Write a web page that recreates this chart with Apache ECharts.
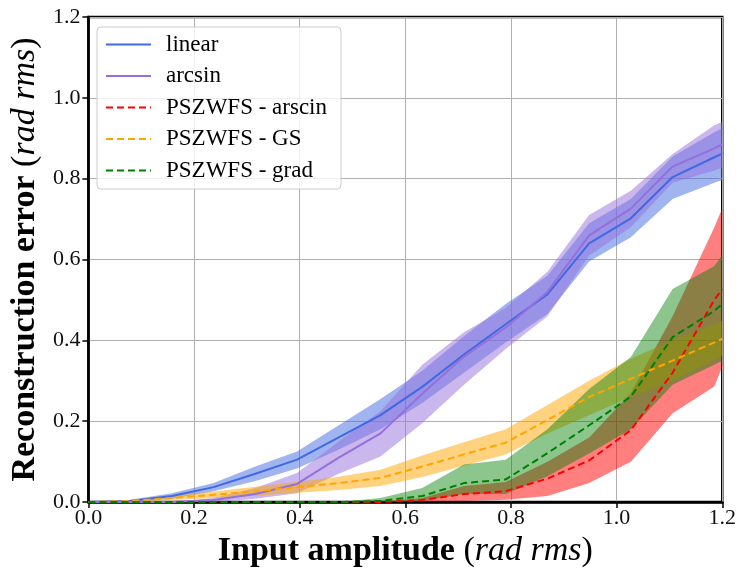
<!DOCTYPE html>
<html><head><meta charset="utf-8">
<script src="https://cdn.jsdelivr.net/npm/echarts@6/dist/echarts.min.js"></script>
<style>html,body{margin:0;padding:0;background:#fff}#c{width:739px;height:573px}</style>
</head><body><div id="c"></div>
<script>
// Input amplitude (rad rms) sample positions (last entry read at the right edge of the axes)
const xs = [0, 0.079, 0.158, 0.237, 0.316, 0.395, 0.474, 0.553, 0.632, 0.711, 0.790, 0.869, 0.948, 1.027, 1.106, 1.185, 1.2];

const linear     = [0, 0.003, 0.015, 0.037, 0.07, 0.105, 0.16, 0.215, 0.285, 0.365, 0.44, 0.514, 0.64, 0.702, 0.804, 0.853, 0.862];
const linearLow  = [0, 0.001, 0.008, 0.027, 0.052, 0.083, 0.13, 0.18, 0.245, 0.32, 0.395, 0.465, 0.595, 0.655, 0.75, 0.79, 0.797];
const linearHigh = [0, 0.006, 0.022, 0.047, 0.088, 0.125, 0.19, 0.255, 0.325, 0.41, 0.49, 0.56, 0.69, 0.75, 0.855, 0.915, 0.925];

const arcsin     = [0, 0, 0, 0.005, 0.02, 0.045, 0.11, 0.17, 0.268, 0.36, 0.432, 0.52, 0.66, 0.726, 0.83, 0.875, 0.885];
const arcsinLow  = [0, 0, 0, 0, 0.008, 0.022, 0.07, 0.113, 0.195, 0.29, 0.379, 0.46, 0.61, 0.68, 0.79, 0.82, 0.828];
const arcsinHigh = [0, 0, 0, 0.01, 0.035, 0.072, 0.15, 0.225, 0.34, 0.42, 0.48, 0.57, 0.71, 0.77, 0.861, 0.932, 0.94];

const pszArscin     = [0, 0, 0, 0, 0, 0, 0, 0, 0.005, 0.02, 0.027, 0.058, 0.103, 0.178, 0.32, 0.50, 0.527];
const pszArscinLow  = [0, 0, 0, 0, 0, 0, 0, 0, 0, 0.003, 0.006, 0.015, 0.047, 0.1, 0.22, 0.286, 0.335];
const pszArscinHigh = [0, 0, 0, 0, 0, 0, 0, 0, 0.01, 0.04, 0.05, 0.1, 0.16, 0.27, 0.46, 0.68, 0.727];

const pszGS     = [0, 0.003, 0.01, 0.018, 0.027, 0.037, 0.047, 0.06, 0.088, 0.118, 0.147, 0.203, 0.26, 0.305, 0.35, 0.395, 0.404];
const pszGSLow  = [0, 0.001, 0.005, 0.01, 0.016, 0.023, 0.03, 0.04, 0.062, 0.09, 0.118, 0.17, 0.215, 0.26, 0.3, 0.352, 0.362];
const pszGSHigh = [0, 0.005, 0.015, 0.026, 0.038, 0.05, 0.063, 0.08, 0.115, 0.148, 0.18, 0.24, 0.3, 0.355, 0.4, 0.44, 0.449];

const pszGrad     = [0, 0, 0, 0, 0, 0, 0, 0.003, 0.015, 0.047, 0.056, 0.121, 0.19, 0.261, 0.408, 0.473, 0.49];
const pszGradLow  = [0, 0, 0, 0, 0, 0, 0, 0, 0.003, 0.02, 0.02, 0.064, 0.12, 0.18, 0.29, 0.34, 0.35];
const pszGradHigh = [0, 0, 0, 0, 0, 0, 0, 0.01, 0.035, 0.093, 0.105, 0.18, 0.28, 0.359, 0.527, 0.584, 0.612];

const seriesNames = ['linear', 'arcsin', 'PSZWFS - arscin', 'PSZWFS - GS', 'PSZWFS - grad'];
const xTicks = [0, 0.2, 0.4, 0.6, 0.8, 1.0, 1.2];
const yTicks = [0, 0.2, 0.4, 0.6, 0.8, 1.0, 1.2];

const FONT = "'Liberation Serif', 'DejaVu Serif', serif";

const defs = [
  {name: seriesNames[0], mean: linear, lo: linearLow, hi: linearHigh, color: '#4169e1', fill: 'rgba(65,105,225,0.5)', dashed: false},
  {name: seriesNames[1], mean: arcsin, lo: arcsinLow, hi: arcsinHigh, color: '#9370db', fill: 'rgba(147,112,219,0.5)', dashed: false},
  {name: seriesNames[2], mean: pszArscin, lo: pszArscinLow, hi: pszArscinHigh, color: '#ff0000', fill: 'rgba(255,0,0,0.5)', dashed: true},
  {name: seriesNames[3], mean: pszGS, lo: pszGSLow, hi: pszGSHigh, color: '#ffa500', fill: 'rgba(255,165,0,0.5)', dashed: true},
  {name: seriesNames[4], mean: pszGrad, lo: pszGradLow, hi: pszGradHigh, color: '#008000', fill: 'rgba(0,128,0,0.45)', dashed: true}
];

function pts(arr) { return xs.map((x, i) => [x, arr[i]]); }

const series = [];
defs.forEach((d) => {
  // band: one polygon per method, built from [x, low, high] through the axis scales
  const bandData = xs.map((x, i) => [x, d.lo[i], d.hi[i]]);
  series.push({
    type: 'custom', name: d.name + ' band', silent: true, z: 2, clip: true,
    data: [0],
    renderItem: function (params, api) {
      const upper = bandData.map(r => api.coord([r[0], r[2]]));
      const lower = bandData.map(r => api.coord([r[0], r[1]])).reverse();
      return {type: 'polygon', shape: {points: upper.concat(lower)}, style: {fill: d.fill}};
    }
  });
});
defs.forEach(d => {
  series.push({type: 'line', name: d.name, data: pts(d.mean), symbol: 'none', z: 5,
    lineStyle: {color: d.color, width: 2, type: d.dashed ? [7, 4] : 'solid'},
    itemStyle: {color: d.color}, emphasis: {disabled: true}});
});

const chart = echarts.init(document.getElementById('c'), null, {renderer: 'canvas'});
chart.setOption({
  animation: false,
  backgroundColor: '#fff',
  grid: {left: 87, right: 14, top: 17, bottom: 67, show: true, borderColor: '#000', borderWidth: 2.5, backgroundColor: 'transparent'},
  legend: {
    data: seriesNames, orient: 'vertical', left: 97, top: 27,
    padding: [6, 14, 7, 8], itemWidth: 45, itemHeight: 12, itemGap: 8.5,
    backgroundColor: 'rgba(255,255,255,0.8)', borderColor: '#cccccc', borderWidth: 1, borderRadius: 4,
    selectedMode: false,
    itemStyle: {opacity: 0},
    textStyle: {fontFamily: FONT, fontSize: 23, color: '#000', lineHeight: 21, padding: [0, 0, 0, 10]}
  },
  xAxis: {
    type: 'value', min: xTicks[0], max: xTicks[xTicks.length - 1], interval: 0.2,
    axisLine: {show: true, onZero: false, lineStyle: {color: '#000', width: 2.5}},
    axisTick: {show: true, length: 6, lineStyle: {color: '#000', width: 1.5}},
    axisLabel: {fontFamily: FONT, fontSize: 22, color: '#111', margin: 5, formatter: v => v.toFixed(1)},
    splitLine: {show: true, lineStyle: {color: '#b0b0b0', width: 1}},
    name: '{b|Input amplitude }{n|(}{i|rad rms}{n|)}', nameLocation: 'middle', nameGap: 29,
    nameTextStyle: {fontFamily: FONT, fontSize: 34, color: '#000', rich: {
      b: {fontFamily: FONT, fontSize: 34, fontWeight: 'bold', color: '#000'},
      n: {fontFamily: FONT, fontSize: 34, color: '#000'},
      i: {fontFamily: FONT, fontSize: 34, fontStyle: 'italic', color: '#000'}}}
  },
  yAxis: {
    type: 'value', min: yTicks[0], max: yTicks[yTicks.length - 1], interval: 0.2,
    axisLine: {show: true, lineStyle: {color: '#000', width: 2.5}},
    axisTick: {show: true, length: 6, lineStyle: {color: '#000', width: 1.5}},
    axisLabel: {fontFamily: FONT, fontSize: 22, color: '#111', margin: 8, formatter: v => v.toFixed(1)},
    splitLine: {show: true, lineStyle: {color: '#b0b0b0', width: 1}},
    name: '{b|Reconstruction error }{n|(}{i|rad rms}{n|)}', nameLocation: 'middle', nameGap: 45,
    nameTextStyle: {fontFamily: FONT, fontSize: 34, color: '#000', rich: {
      b: {fontFamily: FONT, fontSize: 34, fontWeight: 'bold', color: '#000'},
      n: {fontFamily: FONT, fontSize: 34, color: '#000'},
      i: {fontFamily: FONT, fontSize: 34, fontStyle: 'italic', color: '#000'}}}
  },
  series: series
});
</script>
</body></html>
